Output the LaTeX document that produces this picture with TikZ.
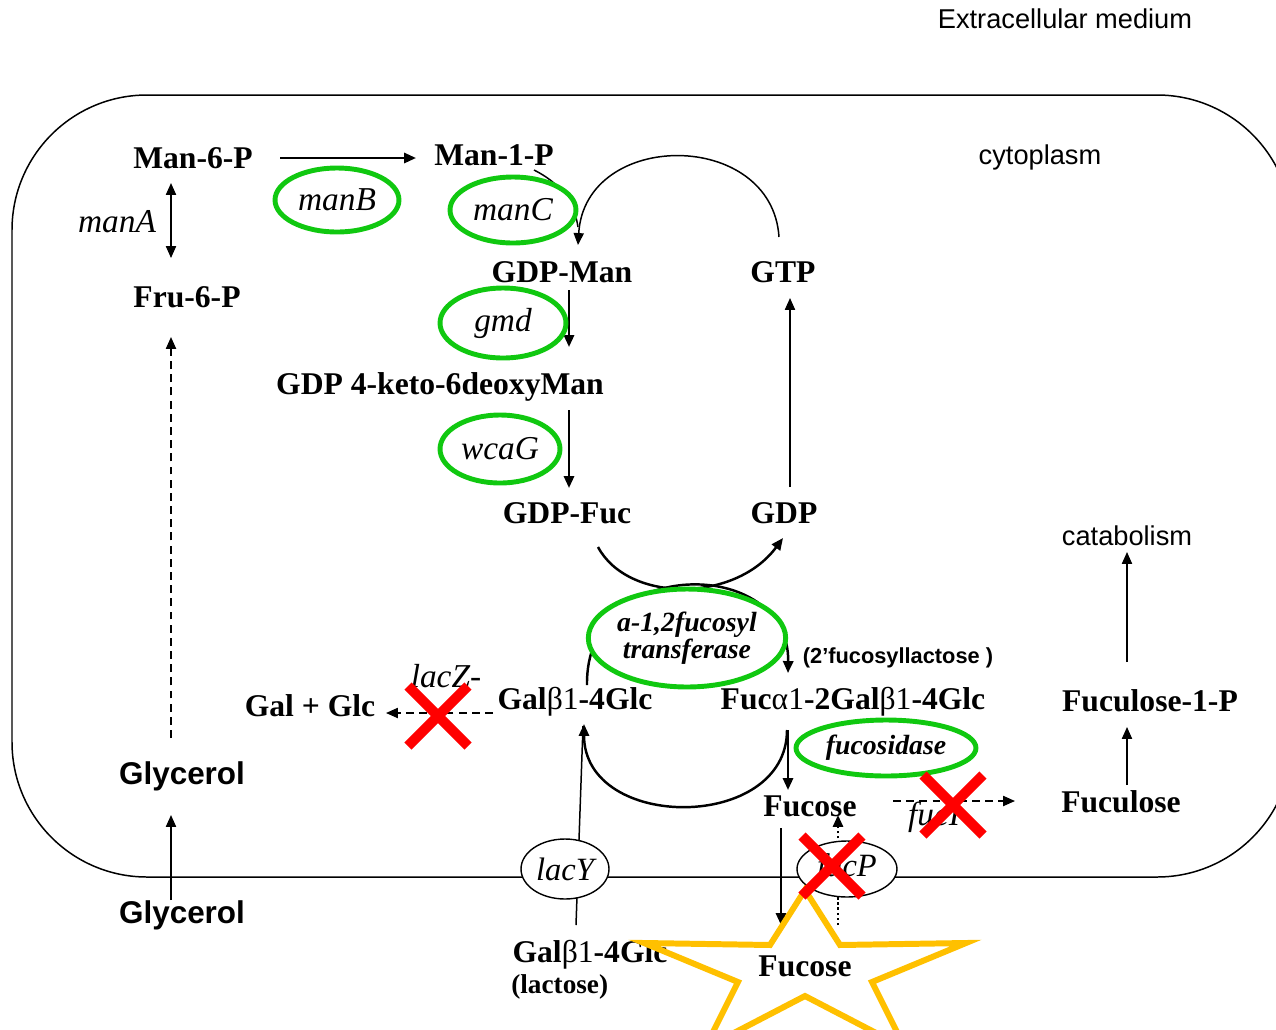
\documentclass[tikz,border=0pt]{standalone}
\usepackage{fontspec}
\setmainfont{Liberation Serif}
\setsansfont{Liberation Sans}
\usetikzlibrary{arrows.meta,shapes.geometric,calc}
\definecolor{enzgreen}{RGB}{16,200,16}
\definecolor{staryellow}{RGB}{255,192,0}
\definecolor{knockout}{RGB}{255,0,0}
\begin{document}
\begin{tikzpicture}[x=0.02cm,y=-0.02cm,
  met/.style={inner sep=0pt, font=\fontsize{18}{20}\selectfont\bfseries},
  smallmet/.style={inner sep=0pt, font=\fontsize{15.5}{17}\selectfont\bfseries},
  gene/.style={inner sep=0pt, font=\fontsize{19}{21}\selectfont\itshape},
  sanslbl/.style={inner sep=0pt, font=\fontsize{15.5}{17}\selectfont\sffamily},
  sansbold/.style={inner sep=0pt, font=\fontsize{17.9}{20}\selectfont\sffamily\bfseries},
  sanssmall/.style={inner sep=0pt, font=\fontsize{12.4}{14}\selectfont\sffamily\bfseries},
  enz/.style={ellipse, draw=enzgreen, line width=2.8pt, fill=white, inner sep=0pt,
    font=\fontsize{19}{21}\selectfont\itshape},
  enzbold/.style={enz, font=\fontsize{15.8}{15.3}\selectfont\bfseries\itshape, align=center},
  porter/.style={ellipse, draw, line width=0.8pt, fill=white, inner sep=0pt,
    font=\fontsize{18.5}{20}\selectfont\itshape},
  tip/.style={-{Triangle[length=6.8pt,width=5.8pt]}},
  thk/.style={tip, line width=1.4pt},
  thn/.style={tip, line width=0.85pt},
  dsh/.style={tip, line width=0.9pt, dash pattern=on 4.5pt off 3pt},
  dot/.style={tip, line width=1.3pt, dash pattern=on 1.3pt off 1.6pt},
  xmark/.style={draw=knockout, line width=5.8pt},
  cellwall/.style={line width=0.85pt, rounded corners=2.7cm}
]
\path[use as bounding box] (0,0) rectangle (1276,1029);

% cell envelope
\draw[cellwall] (12,95) rectangle (1292,877);

% compartment and pathway labels
\node[sanslbl] (ext) at (1065,19) {Extracellular medium};
\node[sanslbl] (cyto) at (1040,157) {cytoplasm};
\node[sanslbl] (catab) at (1127,536) {catabolism};

\node[met] (m6p) at (193,158) {Man-6-P};
\node[met] (m1p) at (494,155) {Man-1-P};
\node[gene] (manA) at (117,222) {manA};
\node[met] (f6p) at (187,297) {Fru-6-P};
\node[met] (gdpman) at (562,272) {GDP-Man};
\node[met] (gtp) at (783,272) {GTP};
\node[met] (keto) at (440,387) {GDP 4-keto-6deoxyMan};
\node[met] (gdpfuc) at (567,513) {GDP-Fuc};
\node[met] (gdp) at (784,513) {GDP};
\node[met] (galglc) at (310,706) {Gal + Glc};
\node[gene] (lacZ) at (446,676) {lacZ-};
\node[met] (lac) at (575,702) {Gal{\mdseries β1}-4Glc};
\node[met] (fl) at (853,702) {Fuc{\mdseries α1}-2Gal{\mdseries β1}-4Glc};
\node[sanssmall] (twofl) at (898,658) {(2’fucosyllactose )};
\node[met] (f1p) at (1150,701) {Fuculose-1-P};
\node[sansbold] (glyin) at (182,776) {Glycerol};
\node[met] (fuc) at (810,806) {Fucose};
\node[gene] (fucI) at (934,817) {fucI};
\node[met] (fucul) at (1121,802) {Fuculose};
\node[sansbold] (glyout) at (182,915) {Glycerol};
\node[met] (lacout) at (590,955) {Gal{\mdseries β1}-4Glc};
\node[smallmet, anchor=west] (lacname) at (511,987) {(lactose)};

% GDP-fucose branch
\draw[thk] ($(m6p)+(87,0)$) -- ($(m1p)+(-78,3)$);
\draw[thn,{Triangle[length=6.8pt,width=5.8pt]}-{Triangle[length=6.8pt,width=5.8pt]}]
  ($(m6p)+(-22,25)$) -- ($(f6p)+(-16,-39)$);
\draw[line width=0.85pt] ($(m1p)+(40,15)$) .. controls ($(m1p)+(64,27)$) and ($(m1p)+(80,45)$) .. ($(gdpman)+(16,-45)$);
\draw[thn] ($(gtp)+(-4,-35)$) .. controls ($(gtp)+(-11,-143)$) and ($(gdpman)+(23,-143)$) .. ($(gdpman)+(16,-27)$);
\draw[thk] ($(gdpman)+(7,18)$) -- ($(keto)+(129,-40)$);
\draw[thk] ($(keto)+(129,23)$) -- ($(gdpfuc)+(2,-25)$);
\draw[thn] ($(gdp)+(6,-26)$) -- ($(gtp)+(7,26)$);
\draw[thk] ($(gdpfuc)+(31,34)$) .. controls ($(gdpfuc)+(61,90)$) and ($(gdp)+(-49,90)$) .. ($(gdp)+(-1,25)$);

% glycerol feed
\draw[dsh] ($(glyin)+(-11,-38)$) -- ($(f6p)+(-16,40)$);
\draw[thn] ($(glyout)+(-11,-15)$) -- ($(glyin)+(-11,39)$);

% lactose fucosylation and breakdown
\draw[thk] ($(lac)+(12,-17)$) .. controls ($(lac)+(10,-147)$) and ($(fl)+(-63,-147)$) .. ($(fl)+(-65,-29)$);
\draw[thk] ($(fl)+(-66,28)$) .. controls ($(fl)+(-66,130)$) and ($(lac)+(9,130)$) .. ($(lac)+(9,22)$);
\draw[dsh] ($(lac)+(-82,11)$) -- ($(galglc)+(76,7)$);
\draw[thk] ($(fl)+(-65,28)$) -- ($(fuc)+(-22,-16)$);
\draw[dsh] ($(fuc)+(83,-5)$) -- ($(fucul)+(-106,-1)$);
\draw[thn] ($(fucul)+(6,-17)$) -- ($(f1p)+(-23,26)$);
\draw[thn] ($(f1p)+(-23,-39)$) -- ($(catab)+(0,16)$);

% transport across the membrane
\draw[line width=0.85pt] ($(lacout)+(-14,-30)$) -- ($(lac)+(8,24)$);
\draw[thk] ($(fuc)+(-29,22)$) -- ($(fuc)+(-29,119)$);
\draw[dot] ($(fuc)+(28,119)$) -- ($(fuc)+(28,9)$);

\node[porter, minimum width=1.76cm, minimum height=1.2cm] (lacY) at (565,869) {lacY};
\node[porter, minimum width=2.0cm, minimum height=1.12cm] (fucP) at (847,869) {fucP};

% enzymes
\node[enz, minimum width=2.48cm, minimum height=1.28cm] (manB) at (337,200) {manB};
\node[enz, minimum width=2.52cm, minimum height=1.32cm] (manC) at (513,210) {manC};
\node[enz, minimum width=2.52cm, minimum height=1.4cm] (gmd) at (503,323) {gmd};
\node[enz, minimum width=2.4cm, minimum height=1.36cm] (wcaG) at (500,449) {wcaG};
\node[enzbold, minimum width=3.76cm, minimum height=1.96cm] (fuct) at (687,638) {a-1,2fucosyl\\transferase};
\node[enzbold, minimum width=3.6cm, minimum height=1.12cm] (fucase) at (886,748) {fucosidase};

% secreted product
\draw[staryellow, line width=3.4pt, miter limit=10]
  (805,890) -- (840,945) -- (966,943) -- (872,982) -- (905,1048) -- (805,996)
  -- (705,1048) -- (738,982) -- (644,943) -- (770,945) -- cycle;
\node[met] (fucext) at (805,966) {Fucose};

% deleted genes
\coordinate (koZ) at (438,716);
\coordinate (koI) at (953,805);
\coordinate (koP) at (832,866);
\foreach \k in {koZ,koI,koP}
  \draw[xmark] ($(\k)+(-30,-30)$) -- ($(\k)+(30,30)$)
               ($(\k)+(-30,30)$) -- ($(\k)+(30,-30)$);
\end{tikzpicture}
\end{document}
